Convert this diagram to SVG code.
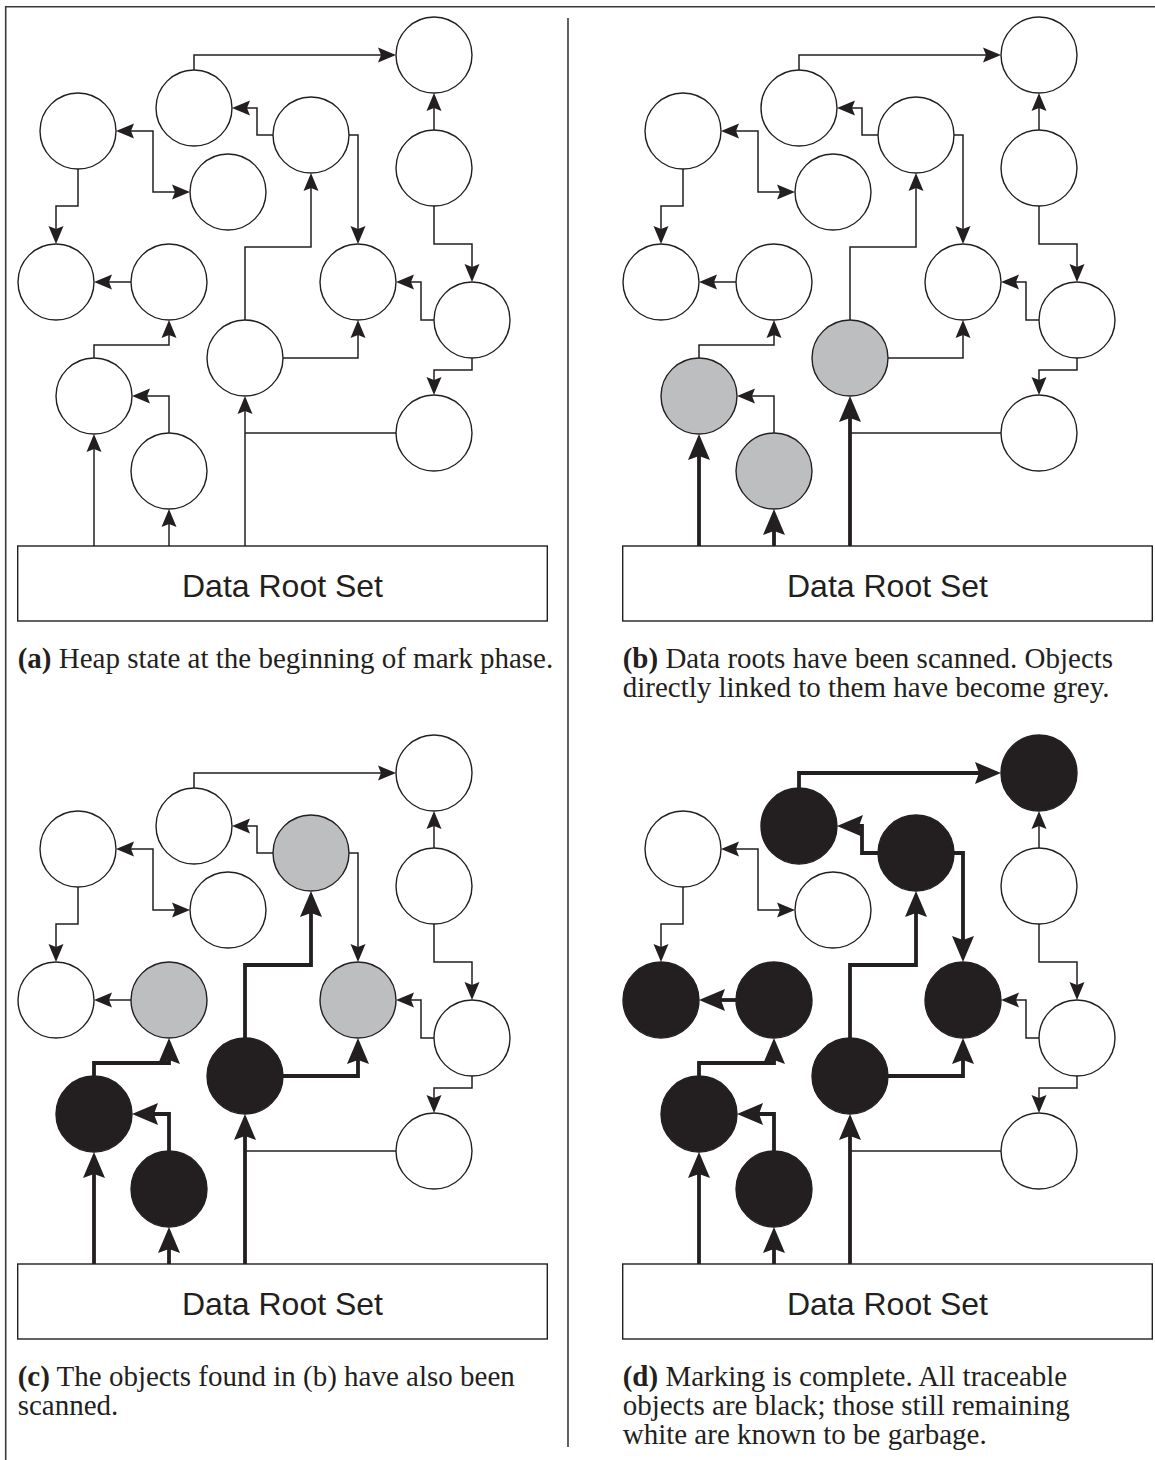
<svg xmlns="http://www.w3.org/2000/svg" width="1155" height="1460" viewBox="0 0 1155 1460">
<style>
.bg{fill:#ffffff}
.frame{fill:none;stroke:#3a3a3a;stroke-width:1.6}
.n{stroke:#231f20;stroke-width:1.4}
.w{fill:#ffffff}
.g{fill:#bcbec0}
.k{fill:#231f20}
.t{fill:none;stroke:#231f20;stroke-width:1.5;stroke-linejoin:miter}
.T{fill:none;stroke:#231f20;stroke-width:3.8;stroke-linejoin:miter}
.ta{marker-end:url(#ah)}
.Ta{marker-end:url(#AH)}
.root{fill:#ffffff;stroke:#231f20;stroke-width:1.4}
.rl{font-family:"Liberation Sans",Arial,sans-serif;font-size:32px;fill:#231f20;text-anchor:middle}
.cap{font-family:"Liberation Serif","Times New Roman",serif;font-size:29px;fill:#231f20}
.b{font-weight:bold}
</style>
<defs>
<marker id="ah" markerUnits="userSpaceOnUse" viewBox="0 -9 18 18" markerWidth="18" markerHeight="18" refX="3" refY="0" orient="auto-start-reverse"><path d="M0,-7.5 L18,0 L0,7.5 L3,0 Z" fill="#231f20"/></marker>
<marker id="AH" markerUnits="userSpaceOnUse" viewBox="0 -12 26 24" markerWidth="26" markerHeight="24" refX="4" refY="0" orient="auto"><path d="M0,-11 L26,0 L0,11 L4,0 Z" fill="#231f20"/></marker>
</defs>
<rect class="bg" x="0" y="0" width="1155" height="1460"/>
<g id="frame">
<path class="frame" d="M5.7,1460 V6.7 H1155"/>
<path class="frame" d="M568,18 V1447"/>
</g>

<!-- Panel (a) -->
<g id="panel-a">
<g id="a-connectors">
<path class="t ta" d="M131,131 H153 V192 H175" style="marker-start:url(#ah)"/>
<path class="t ta" d="M78,169 V206 H56 V229"/>
<path class="t ta" d="M194,70 V55 H381"/>
<path class="t ta" d="M273,135 H257 V108 H247"/>
<path class="t ta" d="M349,135 H358 V229"/>
<path class="t ta" d="M434,130 V108"/>
<path class="t ta" d="M434,206 V244 H472 V267"/>
<path class="t ta" d="M245,320 V247 H311 V188"/>
<path class="t ta" d="M434,320 H421 V282 H411"/>
<path class="t ta" d="M472,358 V370 H434 V380"/>
<path class="t ta" d="M283,358 H358 V335"/>
<path class="t ta" d="M131,282 H109"/>
<path class="t ta" d="M94,358 V345 H169 V335"/>
<path class="t ta" d="M169,433 V396 H147"/>
<path class="t ta" d="M94,546 V449"/>
<path class="t ta" d="M169,546 V524"/>
<path class="t ta" d="M245,546 V411"/>
<path class="t" d="M396,433 H245"/>
</g>
<g id="a-n1"><circle class="n w" cx="78" cy="131" r="38"/></g>
<g id="a-n2"><circle class="n w" cx="194" cy="108" r="38"/></g>
<g id="a-n3"><circle class="n w" cx="228" cy="192" r="38"/></g>
<g id="a-n4"><circle class="n w" cx="56" cy="282" r="38"/></g>
<g id="a-n5"><circle class="n w" cx="169" cy="282" r="38"/></g>
<g id="a-n6"><circle class="n w" cx="94" cy="396" r="38"/></g>
<g id="a-n7"><circle class="n w" cx="169" cy="471" r="38"/></g>
<g id="a-n8"><circle class="n w" cx="245" cy="358" r="38"/></g>
<g id="a-n9"><circle class="n w" cx="358" cy="282" r="38"/></g>
<g id="a-n10"><circle class="n w" cx="472" cy="320" r="38"/></g>
<g id="a-n11"><circle class="n w" cx="434" cy="433" r="38"/></g>
<g id="a-n12"><circle class="n w" cx="434" cy="55" r="38"/></g>
<g id="a-n13"><circle class="n w" cx="434" cy="168" r="38"/></g>
<g id="a-n14"><circle class="n w" cx="311" cy="135" r="38"/></g>
<g id="a-root"><rect class="root" x="17.7" y="546" width="529.6" height="75"/><text class="rl" x="282.5" y="596.5">Data Root Set</text></g>
<text class="cap" x="17.7" y="668"><tspan class="b">(a)</tspan> Heap state at the beginning of mark phase.</text>
</g>

<!-- Panel (b) -->
<g id="panel-b" transform="translate(605,0)">
<g id="b-connectors">
<path class="t ta" d="M131,131 H153 V192 H175" style="marker-start:url(#ah)"/>
<path class="t ta" d="M78,169 V206 H56 V229"/>
<path class="t ta" d="M194,70 V55 H381"/>
<path class="t ta" d="M273,135 H257 V108 H247"/>
<path class="t ta" d="M349,135 H358 V229"/>
<path class="t ta" d="M434,130 V108"/>
<path class="t ta" d="M434,206 V244 H472 V267"/>
<path class="t ta" d="M245,320 V247 H311 V188"/>
<path class="t ta" d="M434,320 H421 V282 H411"/>
<path class="t ta" d="M472,358 V370 H434 V380"/>
<path class="t ta" d="M283,358 H358 V335"/>
<path class="t ta" d="M131,282 H109"/>
<path class="t ta" d="M94,358 V345 H169 V335"/>
<path class="t ta" d="M169,433 V396 H147"/>
<path class="t" d="M396,433 H245"/>
<path class="T Ta" d="M94,546 V456"/>
<path class="T Ta" d="M169,546 V531"/>
<path class="T Ta" d="M245,546 V418"/>
</g>
<g id="b-n1"><circle class="n w" cx="78" cy="131" r="38"/></g>
<g id="b-n2"><circle class="n w" cx="194" cy="108" r="38"/></g>
<g id="b-n3"><circle class="n w" cx="228" cy="192" r="38"/></g>
<g id="b-n4"><circle class="n w" cx="56" cy="282" r="38"/></g>
<g id="b-n5"><circle class="n w" cx="169" cy="282" r="38"/></g>
<g id="b-n6"><circle class="n g" cx="94" cy="396" r="38"/></g>
<g id="b-n7"><circle class="n g" cx="169" cy="471" r="38"/></g>
<g id="b-n8"><circle class="n g" cx="245" cy="358" r="38"/></g>
<g id="b-n9"><circle class="n w" cx="358" cy="282" r="38"/></g>
<g id="b-n10"><circle class="n w" cx="472" cy="320" r="38"/></g>
<g id="b-n11"><circle class="n w" cx="434" cy="433" r="38"/></g>
<g id="b-n12"><circle class="n w" cx="434" cy="55" r="38"/></g>
<g id="b-n13"><circle class="n w" cx="434" cy="168" r="38"/></g>
<g id="b-n14"><circle class="n w" cx="311" cy="135" r="38"/></g>
<g id="b-root"><rect class="root" x="17.7" y="546" width="529.6" height="75"/><text class="rl" x="282.5" y="596.5">Data Root Set</text></g>
<text class="cap" x="17.7" y="668"><tspan class="b">(b)</tspan> Data roots have been scanned. Objects</text>
<text class="cap" x="17.7" y="697">directly linked to them have become grey.</text>
</g>

<!-- Panel (c) -->
<g id="panel-c" transform="translate(0,718)">
<g id="c-connectors">
<path class="t ta" d="M131,131 H153 V192 H175" style="marker-start:url(#ah)"/>
<path class="t ta" d="M78,169 V206 H56 V229"/>
<path class="t ta" d="M194,70 V55 H381"/>
<path class="t ta" d="M273,135 H257 V108 H247"/>
<path class="t ta" d="M349,135 H358 V229"/>
<path class="t ta" d="M434,130 V108"/>
<path class="t ta" d="M434,206 V244 H472 V267"/>
<path class="t ta" d="M434,320 H421 V282 H411"/>
<path class="t ta" d="M472,358 V370 H434 V380"/>
<path class="t ta" d="M131,282 H109"/>
<path class="t" d="M396,433 H245"/>
<path class="T Ta" d="M245,320 V247 H311 V195"/>
<path class="T Ta" d="M283,358 H358 V342"/>
<path class="T Ta" d="M94,358 V345 H169 V342"/>
<path class="T Ta" d="M169,433 V396 H154"/>
<path class="T Ta" d="M94,546 V456"/>
<path class="T Ta" d="M169,546 V531"/>
<path class="T Ta" d="M245,546 V418"/>
</g>
<g id="c-n1"><circle class="n w" cx="78" cy="131" r="38"/></g>
<g id="c-n2"><circle class="n w" cx="194" cy="108" r="38"/></g>
<g id="c-n3"><circle class="n w" cx="228" cy="192" r="38"/></g>
<g id="c-n4"><circle class="n w" cx="56" cy="282" r="38"/></g>
<g id="c-n5"><circle class="n g" cx="169" cy="282" r="38"/></g>
<g id="c-n6"><circle class="n k" cx="94" cy="396" r="38"/></g>
<g id="c-n7"><circle class="n k" cx="169" cy="471" r="38"/></g>
<g id="c-n8"><circle class="n k" cx="245" cy="358" r="38"/></g>
<g id="c-n9"><circle class="n g" cx="358" cy="282" r="38"/></g>
<g id="c-n10"><circle class="n w" cx="472" cy="320" r="38"/></g>
<g id="c-n11"><circle class="n w" cx="434" cy="433" r="38"/></g>
<g id="c-n12"><circle class="n w" cx="434" cy="55" r="38"/></g>
<g id="c-n13"><circle class="n w" cx="434" cy="168" r="38"/></g>
<g id="c-n14"><circle class="n g" cx="311" cy="135" r="38"/></g>
<g id="c-root"><rect class="root" x="17.7" y="546" width="529.6" height="75"/><text class="rl" x="282.5" y="596.5">Data Root Set</text></g>
<text class="cap" x="17.7" y="668"><tspan class="b">(c)</tspan> The objects found in (b) have also been</text>
<text class="cap" x="17.7" y="697">scanned.</text>
</g>

<!-- Panel (d) -->
<g id="panel-d" transform="translate(605,718)">
<g id="d-connectors">
<path class="t ta" d="M131,131 H153 V192 H175" style="marker-start:url(#ah)"/>
<path class="t ta" d="M78,169 V206 H56 V229"/>
<path class="t ta" d="M434,130 V108"/>
<path class="t ta" d="M434,206 V244 H472 V267"/>
<path class="t ta" d="M434,320 H421 V282 H411"/>
<path class="t ta" d="M472,358 V370 H434 V380"/>
<path class="t" d="M396,433 H245"/>
<path class="T Ta" d="M194,70 V55 H374"/>
<path class="T Ta" d="M273,135 H257 V108 H254"/>
<path class="T Ta" d="M349,135 H358 V222"/>
<path class="T Ta" d="M131,282 H116"/>
<path class="T Ta" d="M245,320 V247 H311 V195"/>
<path class="T Ta" d="M283,358 H358 V342"/>
<path class="T Ta" d="M94,358 V345 H169 V342"/>
<path class="T Ta" d="M169,433 V396 H154"/>
<path class="T Ta" d="M94,546 V456"/>
<path class="T Ta" d="M169,546 V531"/>
<path class="T Ta" d="M245,546 V418"/>
</g>
<g id="d-n1"><circle class="n w" cx="78" cy="131" r="38"/></g>
<g id="d-n2"><circle class="n k" cx="194" cy="108" r="38"/></g>
<g id="d-n3"><circle class="n w" cx="228" cy="192" r="38"/></g>
<g id="d-n4"><circle class="n k" cx="56" cy="282" r="38"/></g>
<g id="d-n5"><circle class="n k" cx="169" cy="282" r="38"/></g>
<g id="d-n6"><circle class="n k" cx="94" cy="396" r="38"/></g>
<g id="d-n7"><circle class="n k" cx="169" cy="471" r="38"/></g>
<g id="d-n8"><circle class="n k" cx="245" cy="358" r="38"/></g>
<g id="d-n9"><circle class="n k" cx="358" cy="282" r="38"/></g>
<g id="d-n10"><circle class="n w" cx="472" cy="320" r="38"/></g>
<g id="d-n11"><circle class="n w" cx="434" cy="433" r="38"/></g>
<g id="d-n12"><circle class="n k" cx="434" cy="55" r="38"/></g>
<g id="d-n13"><circle class="n w" cx="434" cy="168" r="38"/></g>
<g id="d-n14"><circle class="n k" cx="311" cy="135" r="38"/></g>
<g id="d-root"><rect class="root" x="17.7" y="546" width="529.6" height="75"/><text class="rl" x="282.5" y="596.5">Data Root Set</text></g>
<text class="cap" x="17.7" y="668"><tspan class="b">(d)</tspan> Marking is complete. All traceable</text>
<text class="cap" x="17.7" y="697">objects are black; those still remaining</text>
<text class="cap" x="17.7" y="726">white are known to be garbage.</text>
</g>
</svg>
